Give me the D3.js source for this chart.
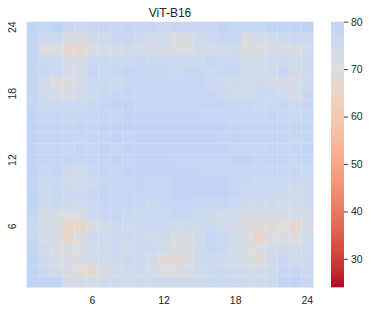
<!DOCTYPE html>
<html>
<head>
<meta charset="utf-8">
<script src="https://cdn.jsdelivr.net/npm/d3@7"></script>
<style>
  body { margin: 0; background: #fff; }
  text { font-family: "Liberation Sans", Arial, sans-serif; fill: #262626; }
</style>
</head>
<body>
<svg id="chart"></svg>
<script>
const title = "ViT-B16";
const cols = d3.range(1, 25);
const rowLabels = d3.range(24, 0, -1);   // top row is 24
const xTicks = [6, 12, 18, 24];
const yTicks = [6, 12, 18, 24];
const cbarTicks = [30, 40, 50, 60, 70, 80];
const vmin = 24, vmax = 80, center = 70;

// values, one array per row, top (24) to bottom (1)
const grid = [
  [79, 78, 80, 77, 76, 77, 77, 77, 78, 77, 77, 76, 77, 77, 77, 77, 79, 78, 78, 78, 79, 79, 79, 80],
  [78, 76, 76, 72, 71, 75, 75, 77, 77, 76, 74, 74, 71, 72, 75, 76, 77, 77, 72, 74, 74, 76, 76, 76],
  [78, 71, 71, 68, 66, 72, 73, 73, 74, 74, 73, 73, 71, 71, 74, 74, 75, 75, 71, 71, 73, 73, 72, 74],
  [78, 76, 76, 72, 72, 76, 76, 76, 76, 77, 76, 76, 76, 76, 76, 78, 76, 76, 74, 74, 75, 75, 74, 75],
  [78, 77, 76, 73, 74, 77, 76, 77, 78, 78, 77, 77, 76, 78, 77, 76, 77, 77, 74, 75, 75, 77, 74, 75],
  [78, 74, 71, 71, 73, 76, 76, 75, 77, 78, 78, 78, 77, 77, 77, 76, 75, 75, 74, 75, 73, 73, 72, 75],
  [78, 75, 73, 72, 75, 76, 77, 77, 78, 78, 78, 78, 77, 78, 78, 77, 76, 75, 74, 76, 76, 75, 73, 77],
  [78, 76, 76, 76, 76, 77, 78, 79, 79, 78, 78, 78, 78, 78, 78, 78, 78, 77, 77, 76, 76, 77, 76, 77],
  [79, 78, 77, 77, 77, 78, 78, 78, 79, 79, 79, 79, 78, 79, 78, 78, 78, 78, 77, 77, 78, 77, 76, 77],
  [79, 78, 78, 77, 78, 78, 79, 79, 79, 79, 79, 79, 79, 79, 79, 79, 79, 78, 78, 78, 78, 78, 78, 78],
  [79, 78, 78, 78, 77, 78, 78, 79, 78, 79, 79, 79, 79, 79, 79, 79, 78, 79, 78, 78, 78, 78, 77, 78],
  [79, 78, 78, 77, 78, 78, 79, 78, 79, 79, 79, 79, 79, 79, 79, 79, 79, 78, 78, 78, 78, 78, 78, 79],
  [79, 78, 78, 78, 78, 78, 78, 79, 78, 79, 79, 79, 78, 78, 78, 78, 78, 79, 79, 78, 78, 78, 77, 78],
  [79, 77, 78, 75, 75, 77, 78, 78, 79, 79, 79, 79, 79, 79, 78, 78, 78, 78, 78, 78, 77, 77, 77, 76],
  [78, 76, 76, 75, 75, 76, 77, 78, 78, 79, 78, 78, 79, 79, 79, 79, 79, 78, 77, 76, 76, 76, 76, 76],
  [79, 76, 77, 76, 76, 77, 78, 78, 78, 78, 78, 78, 79, 79, 79, 79, 79, 78, 76, 76, 76, 76, 75, 75],
  [79, 75, 76, 75, 75, 76, 77, 77, 77, 77, 76, 77, 78, 78, 77, 77, 77, 76, 75, 75, 75, 74, 75, 76],
  [77, 73, 72, 71, 71, 76, 77, 77, 76, 76, 76, 76, 77, 77, 76, 75, 74, 74, 72, 72, 72, 72, 73, 74],
  [76, 74, 72, 65, 66, 71, 74, 76, 75, 76, 76, 76, 75, 75, 75, 76, 74, 73, 71, 69, 69, 70, 67, 73],
  [77, 73, 72, 66, 71, 75, 75, 76, 76, 75, 75, 75, 72, 72, 75, 78, 76, 74, 71, 65, 71, 71, 71, 74],
  [78, 75, 72, 71, 71, 74, 75, 76, 75, 76, 76, 74, 71, 72, 75, 77, 76, 74, 71, 71, 73, 75, 74, 75],
  [79, 75, 73, 72, 72, 74, 74, 75, 76, 76, 74, 68, 68, 71, 76, 76, 75, 74, 72, 69, 75, 77, 75, 76],
  [79, 76, 74, 72, 68, 68, 73, 74, 75, 76, 73, 71, 71, 72, 75, 76, 76, 75, 74, 74, 75, 77, 77, 76],
  [79, 79, 79, 73, 73, 73, 75, 75, 75, 75, 75, 75, 75, 75, 75, 76, 76, 76, 75, 75, 76, 79, 79, 77]
];

// matplotlib coolwarm (Moreland) control colours
const coolwarm = [
  "#3b4cc0", "#445acc", "#4d68d7", "#5775e1", "#6282ea", "#6c8ef1", "#779af7", "#82a5fb",
  "#8db0fe", "#98b9ff", "#a3c2ff", "#aec9fd", "#b8d0f9", "#c2d5f4", "#ccd9ee", "#d5dbe6",
  "#dddddd", "#e5d8d1", "#ecd3c5", "#f1ccb8", "#f5c4ac", "#f7bb9f", "#f7b193", "#f7a686",
  "#f49a7b", "#f18d6f", "#ec7f63", "#e57059", "#de604d", "#d55043", "#cb3e38", "#c0282f",
  "#b40426"
];
const coolwarmR = d3.piecewise(d3.interpolateRgb, coolwarm.slice().reverse());
// seaborn-style recentering around "center"
const vrange = Math.max(vmax - center, center - vmin);
const color = v => coolwarmR((v - (center - vrange)) / (2 * vrange));

const W = 373, H = 315;
const hm = { left: 26.7, top: 21.7, right: 313.3, bottom: 287.3 };
const cb = { left: 331, right: 344 };

const svg = d3.select("#chart").attr("width", W).attr("height", H);

const x = d3.scaleBand().domain(cols).range([hm.left, hm.right]);
const y = d3.scaleBand().domain(rowLabels).range([hm.top, hm.bottom]);

const cells = [];
grid.forEach((row, i) => {
  row.forEach((v, j) => cells.push({ r: rowLabels[i], c: cols[j], v: v }));
});

svg.append("g")
  .selectAll("rect")
  .data(cells)
  .enter().append("rect")
  .attr("x", d => x(d.c))
  .attr("y", d => y(d.r))
  .attr("width", x.bandwidth() + 0.3)
  .attr("height", y.bandwidth() + 0.3)
  .attr("fill", d => color(d.v));

// faint cell seams
svg.append("g")
  .selectAll("rect")
  .data(cells)
  .enter().append("rect")
  .attr("x", d => x(d.c))
  .attr("y", d => y(d.r))
  .attr("width", x.bandwidth())
  .attr("height", y.bandwidth())
  .attr("fill", "none")
  .attr("stroke", "#fff")
  .attr("stroke-opacity", 0.07)
  .attr("stroke-width", 0.6);

// axes (no tick lines, seaborn style)
const xAxis = d3.axisBottom(x).tickValues(xTicks).tickSize(0).tickPadding(9);
svg.append("g")
  .attr("transform", "translate(0," + hm.bottom + ")")
  .call(xAxis)
  .call(g => g.select(".domain").remove())
  .selectAll("text")
  .attr("font-size", "10.5px")
  .attr("font-family", "Liberation Sans, Arial, sans-serif")
  .attr("fill", "#262626");

svg.append("g")
  .selectAll("text")
  .data(yTicks)
  .enter().append("text")
  .attr("transform", d => "translate(16," + (y(d) + y.bandwidth() / 2) + ") rotate(-90)")
  .attr("text-anchor", "middle")
  .attr("font-size", "10.5px")
  .text(d => d);

svg.append("text")
  .attr("x", (hm.left + hm.right) / 2)
  .attr("y", 16.5)
  .attr("text-anchor", "middle")
  .attr("font-size", "12px")
  .text(title);

// colorbar
const cy = d3.scaleLinear().domain([vmin, vmax]).range([hm.bottom, hm.top]);
const defs = svg.append("defs");
const grad = defs.append("linearGradient")
  .attr("id", "cbar")
  .attr("x1", 0).attr("y1", 1).attr("x2", 0).attr("y2", 0);
d3.range(0, 1.0001, 0.02).forEach(t => {
  grad.append("stop")
    .attr("offset", t)
    .attr("stop-color", color(vmin + t * (vmax - vmin)));
});
svg.append("rect")
  .attr("x", cb.left)
  .attr("y", hm.top)
  .attr("width", cb.right - cb.left)
  .attr("height", hm.bottom - hm.top)
  .attr("fill", "url(#cbar)");

const cAxis = d3.axisRight(cy).tickValues(cbarTicks).tickSize(4).tickPadding(3);
svg.append("g")
  .attr("transform", "translate(" + cb.right + ",0)")
  .call(cAxis)
  .call(g => g.select(".domain").remove())
  .call(g => g.selectAll("line").attr("stroke", "#262626").attr("stroke-width", 0.9))
  .selectAll("text")
  .attr("font-size", "10.5px")
  .attr("font-family", "Liberation Sans, Arial, sans-serif")
  .attr("fill", "#262626");
</script>
</body>
</html>
